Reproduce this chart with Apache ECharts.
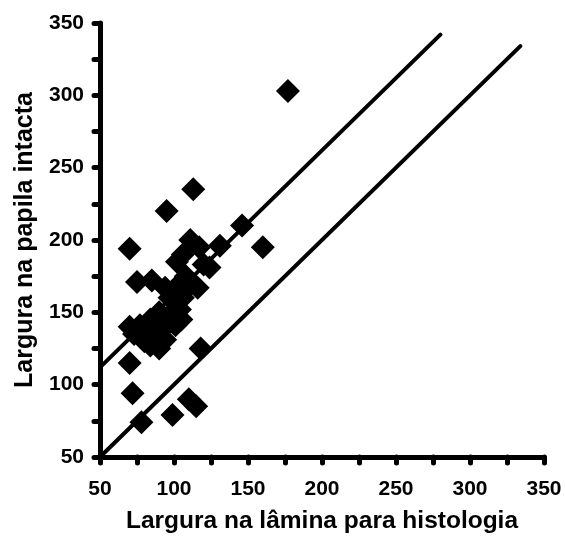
<!DOCTYPE html>
<html>
<head>
<meta charset="utf-8">
<script src="https://cdn.jsdelivr.net/npm/echarts@6/dist/echarts.min.js"></script>
<style>
    html, body { margin: 0; padding: 0; background: #fff; }
    #chart { width: 565px; height: 546px; }
</style>
</head>
<body>
<div id="chart"></div>
<script>
    // axis ticks
    var axisMin = 50;
    var axisMax = 350;
    var axisStep = 50;

    // measurements: [lamina para histologia, papila intacta]
    var points = [
        [177, 303], [113, 235], [95, 220], [70, 194], [146, 210], [160, 195],
        [131, 196], [111, 200], [106, 190], [102, 185], [117, 195], [120, 183],
        [124, 181], [116, 167], [75, 171], [85, 172], [94, 167], [102, 168],
        [97, 160], [106, 160], [104, 152], [97, 148], [101, 141], [94, 140],
        [89, 136], [84, 145], [77, 141], [70, 140], [73, 135], [84, 127],
        [94, 131], [90, 125], [80, 130], [70, 115], [72, 94], [118, 125],
        [78, 74], [99, 79], [115, 85], [110, 90], [108, 175], [112, 170],
        [90, 150], [86, 138], [105, 145]
    ];

    // reference lines
    var upperLine = [[50, 112], [280, 342]];
    var lowerLine = [[50, 50], [334, 334]];

    var font = 'Liberation Sans';
    var chart = echarts.init(document.getElementById('chart'));

    function axis(name, gap, nameSize, labelMargin) {
        return {
            type: 'value',
            min: axisMin,
            max: axisMax,
            interval: axisStep,
            name: name,
            nameLocation: 'middle',
            nameGap: gap,
            nameTextStyle: { fontFamily: font, fontWeight: 'bold', fontSize: nameSize, color: '#000' },
            axisLine: { show: true, lineStyle: { color: '#000', width: 5, cap: 'round' } },
            axisTick: { show: true, length: 6, lineStyle: { color: '#000', width: 5, cap: 'round' } },
            minorTick: { show: true, splitNumber: 2, length: 6, lineStyle: { color: '#000', width: 5, cap: 'round' } },
            axisLabel: { fontFamily: font, fontWeight: 'bold', fontSize: 21, color: '#000', margin: labelMargin },
            splitLine: { show: false }
        };
    }

    var option = {
        animation: false,
        backgroundColor: '#fff',
        grid: { left: 100, right: 21, top: 23, bottom: 89, outerBoundsMode: 'none', containLabel: false },
        xAxis: axis('Largura na lâmina para histologia', 52, 24.5, 22),
        yAxis: axis('Largura na papila intacta', 56, 25, 16),
        series: [
            {
                type: 'line',
                data: upperLine,
                symbol: 'none',
                lineStyle: { color: '#000', width: 4, cap: 'round' },
                z: 3
            },
            {
                type: 'line',
                data: lowerLine,
                symbol: 'none',
                lineStyle: { color: '#000', width: 4, cap: 'round' },
                z: 3
            },
            {
                type: 'scatter',
                data: points,
                symbol: 'diamond',
                symbolSize: 24,
                itemStyle: { color: '#000', opacity: 1 },
                z: 4
            }
        ]
    };
    chart.setOption(option);
</script>
</body>
</html>
